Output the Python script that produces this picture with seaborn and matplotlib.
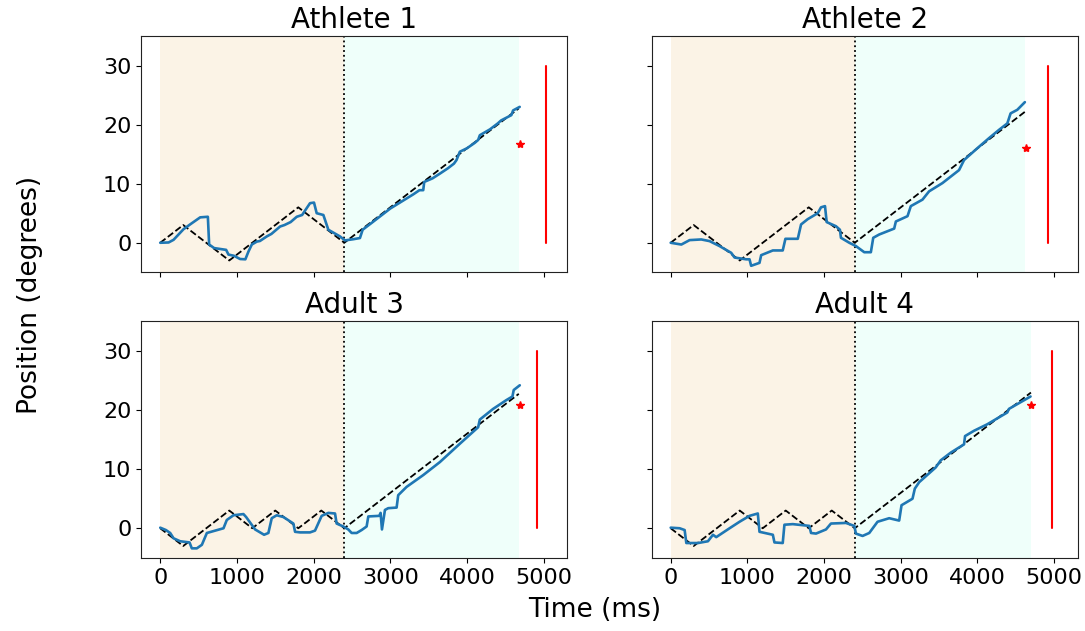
import numpy as np
import pandas as pd
import matplotlib
matplotlib.use("Agg")
import matplotlib.pyplot as plt
import seaborn as sns

# ---- data -------------------------------------------------------------
titles = ["Athlete 1", "Athlete 2", "Adult 3", "Adult 4"]

# target trajectories (ms, degrees)
target_t = [
    [0, 300, 900, 1800, 2400, 4675],
    [0, 300, 900, 1800, 2400, 4622],
    [0, 300, 900, 1200, 1500, 1800, 2100, 2400, 4675],
    [0, 300, 900, 1200, 1500, 1800, 2100, 2400, 4697],
]
target_y = [
    [0, 3, -3, 6, 0, 22.75],
    [0, 3, -3, 6, 0, 22.2],
    [0, -3, 3, 0, 3, 0, 3, 0, 22.75],
    [0, -3, 3, 0, 3, 0, 3, 0, 22.97],
]

# recorded eye position
eye_t_1 = [0, 109, 174, 304, 400, 521, 621, 638, 703, 859, 890, 960, 1041, 1110,
           1150, 1194, 1260, 1300, 1389, 1450, 1563, 1620, 1700, 1780, 1850,
           1953, 2005, 2040, 2127, 2192, 2344, 2409, 2517, 2604, 2639, 2750,
           2900, 3000, 3100, 3200, 3300, 3380, 3429, 3442, 3550, 3646, 3750,
           3830, 3863, 3906, 4000, 4100, 4145, 4167, 4300, 4401, 4444, 4578,
           4601, 4687]
eye_y_1 = [0, 0.05, 0.5, 2.3, 3.2, 4.3, 4.4, -0.3, -0.9, -1.2, -2.0, -2.2, -2.75,
           -2.8, -1.5, -0.3, 0.2, 0.3, 1.07, 1.5, 2.75, 3.0, 3.5, 4.4, 4.7, 6.7,
           6.8, 5.0, 4.7, 2.2, 1.07, 0.4, 0.6, 0.8, 2.2, 3.3, 4.8, 5.8, 6.6,
           7.4, 8.2, 8.9, 8.9, 10.3, 10.9, 11.7, 12.6, 13.4, 14.0, 15.4, 16.0,
           16.9, 17.4, 18.2, 19.2, 20.2, 20.7, 21.6, 22.4, 23.0]

eye_t_2 = [0, 139, 247, 399, 507, 637, 789, 833, 984, 1028, 1049, 1158, 1180,
           1332, 1461, 1496, 1657, 1700, 1787, 1917, 1960, 2012, 2034, 2155,
           2207, 2220, 2329, 2415, 2524, 2610, 2641, 2719, 2914, 2936, 3088,
           3131, 3283, 3369, 3543, 3760, 3825, 3998, 4150, 4280, 4389, 4432,
           4519, 4618]
eye_y_2 = [0, -0.3, 0.45, 0.56, 0.28, -0.56, -1.7, -2.5, -2.8, -2.8, -3.9, -3.4,
           -2.1, -1.3, -1.3, 0.67, 0.67, 3.1, 4.0, 5.0, 6.0, 6.2, 3.5, 2.8, 2.2,
           0.84, 0.0, -0.56, -1.6, -1.6, 0.84, 1.4, 2.4, 3.6, 4.5, 6.2, 7.3,
           8.7, 10.1, 12.3, 14.0, 16.0, 17.7, 19.1, 20.2, 21.9, 22.5, 23.8]

eye_t_3 = [0, 74, 130, 174, 260, 382, 412, 477, 543, 608, 825, 868, 955, 1085,
           1120, 1237, 1354, 1410, 1454, 1519, 1606, 1736, 1758, 1823, 1953,
           2018, 2105, 2192, 2279, 2300, 2387, 2452, 2496, 2561, 2626, 2691,
           2713, 2856, 2873, 2891, 2930, 2973, 3082, 3103, 3212, 3429, 3646,
           3906, 4145, 4167, 4340, 4514, 4592, 4609, 4688]
eye_y_3 = [0.1, -0.3, -0.8, -1.7, -2.2, -2.4, -3.4, -3.4, -2.8, -0.8, 0.0, 1.4,
           2.2, 2.4, 1.9, -0.2, -1.1, -0.8, 1.7, 2.2, 1.9, 0.8, -0.6, -0.7,
           -0.7, -0.4, 2.1, 2.6, 2.5, 0.8, 0.3, -0.2, -0.8, -0.8, -0.3, 0.3,
           2.0, 2.1, 2.6, -0.2, 3.1, 3.4, 3.5, 5.6, 7.0, 9.0, 11.2, 14.3, 17.1,
           18.4, 20.2, 21.7, 22.3, 23.4, 24.2]

eye_t_4 = [0, 117, 182, 204, 291, 356, 486, 551, 594, 768, 898, 1028, 1136,
           1158, 1332, 1353, 1461, 1483, 1592, 1808, 1830, 1895, 2025, 2090,
           2285, 2394, 2415, 2502, 2589, 2697, 2849, 2979, 3010, 3153, 3183,
           3240, 3456, 3521, 3652, 3825, 3838, 3955, 4128, 4389, 4410, 4692]
eye_y_4 = [0.1, 0.0, -0.3, -2.5, -2.5, -2.5, -2.2, -1.1, -1.5, 0.0, 1.1, 2.1,
           2.5, -0.6, -1.1, -2.4, -2.5, 0.6, 0.7, 0.4, -0.8, -0.9, -0.2, 0.8,
           0.9, 0.4, -0.9, -1.3, -0.8, 1.1, 1.7, 1.3, 3.9, 5.0, 6.7, 7.8, 10.3,
           11.5, 12.8, 14.2, 15.6, 16.5, 17.6, 19.6, 20.2, 22.3]

eye_t = [eye_t_1, eye_t_2, eye_t_3, eye_t_4]
eye_y = [eye_y_1, eye_y_2, eye_y_3, eye_y_4]

# phase boundaries and end-of-trial response
phase_split = 2400
trial_end = [4675, 4622, 4675, 4697]
response_t = [4688, 4631, 4688, 4697]
response_y = [16.8, 16.1, 20.9, 20.9]
scale_bar_t = [5035, 4922, 4918, 4970]
scale_bar_y = [0, 30]

# ---- figure -----------------------------------------------------------
sns.set_style("ticks")
plt.rcParams["font.family"] = ["DejaVu Sans"]
plt.rcParams.update({
    "text.color": "black",
    "axes.labelcolor": "black",
    "xtick.color": "black",
    "ytick.color": "black",
    "axes.edgecolor": "#222222",
})

fig, axes = plt.subplots(2, 2, figsize=(10.85, 6.31), dpi=100,
                         sharex=True, sharey=True)
fig.subplots_adjust(left=0.130, right=0.9935, top=0.943, bottom=0.116,
                    wspace=0.197, hspace=0.208)

for i, ax in enumerate(axes.flat):
    ax.axvspan(0, phase_split, color="#fbf3e6", lw=0, zorder=0)
    ax.axvspan(phase_split, trial_end[i], color="#effffa", lw=0, zorder=0)
    ax.axvline(phase_split, color="black", ls=":", lw=1.3, zorder=1)

    tgt = pd.DataFrame({"t": target_t[i], "y": target_y[i]})
    sns.lineplot(data=tgt, x="t", y="y", ax=ax, color="black",
                 linestyle="--", lw=1.3, estimator=None, sort=False, zorder=2)

    eye = pd.DataFrame({"t": eye_t[i], "y": eye_y[i]})
    sns.lineplot(data=eye, x="t", y="y", ax=ax, color="#1f77b4",
                 lw=1.9, estimator=None, sort=False, zorder=3)

    ax.plot(response_t[i], response_y[i], marker="*", color="red",
            ms=6, ls="none", zorder=4)
    ax.plot([scale_bar_t[i]] * 2, scale_bar_y, color="red", lw=1.5, zorder=4)

    ax.set_title(titles[i], fontsize=20, color="black")
    ax.set_xlabel("")
    ax.set_ylabel("")
    ax.set_xlim(-250, 5310)
    ax.set_ylim(-5, 35)
    ax.set_xticks([0, 1000, 2000, 3000, 4000, 5000])
    ax.set_yticks([0, 10, 20, 30])
    ax.tick_params(labelsize=16, colors="black")
    for s in ax.spines.values():
        s.set_visible(True)
        s.set_color("#222222")

fig.supxlabel("Time (ms)", fontsize=19, x=0.548, y=0.012, color="black")
fig.supylabel("Position (degrees)", fontsize=19, x=0.016, y=0.532,
              color="black")

fig.savefig("out.png", dpi=100)
